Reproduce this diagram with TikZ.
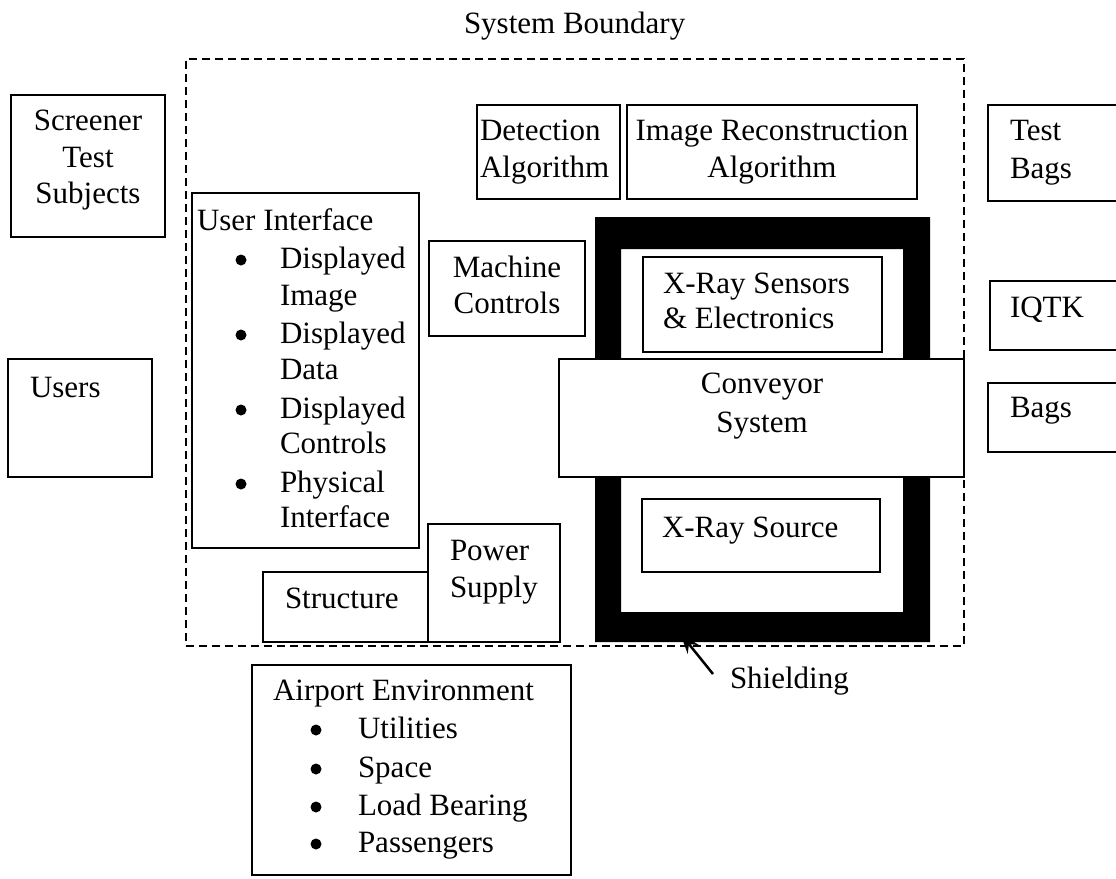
\documentclass[tikz,border=0pt]{standalone}
\usepackage{fontspec}
\setmainfont{Liberation Serif}
\usetikzlibrary{arrows.meta}
\tikzset{
  box/.style={draw, line width=1.6pt, inner sep=0pt, outer sep=0pt},
  wbox/.style={box, fill=white},
  txt/.style={font=\fontsize{31}{36}\selectfont, anchor=base west, inner sep=0pt, outer sep=0pt},
  ctxt/.style={txt, anchor=base},
  bul/.style={circle, fill=black, inner sep=0pt, minimum size=11pt},
  boundary/.style={draw, line width=1.5pt, dash pattern=on 8pt off 5pt},
  shield/.style={fill=black, even odd rule},
  pointer/.style={line width=2.5pt, -{Stealth[length=21pt,width=14pt]}}
}
\newcommand{\mybox}[6][box]{\node[#1, minimum width={(#5-#3)*1pt}, minimum height={(#6-#4)*1pt}] (#2) at ({(#3+#5)/2},{(#4+#6)/2}) {};}
\begin{document}
\begin{tikzpicture}[x=1pt,y=-1pt]
\useasboundingbox[fill=white] (0,0) rectangle (1116,878);
% system boundary
\node[txt] (sbl) at (464,33) {System Boundary};
\mybox[boundary]{sysb}{186}{59}{964}{646}
% shielding
\path[shield] (595,217) rectangle (930,642) (621,249) rectangle (903,612);
\coordinate (shieldtip) at (680,633);
% outside boxes
\mybox{screener}{11}{95}{165}{237}
\node[ctxt] (scr1) at (88,130) {Screener};
\node[ctxt] (scr2) at (88,167) {Test};
\node[ctxt] (scr3) at (88,203) {Subjects};
\mybox{users}{8}{359}{152}{477}
\node[txt] (userst) at (30,397) {Users};
\mybox{testbags}{988}{105}{1125}{201}
\node[txt] (tb1) at (1010,140) {Test};
\node[txt] (tb2) at (1010,178) {Bags};
\mybox{iqtk}{990}{281}{1125}{350}
\node[txt] (iqtkt) at (1010,317) {IQTK};
\mybox{bags}{988}{383}{1125}{452}
\node[txt] (bagst) at (1010,417) {Bags};
% user interface
\mybox{ui}{192}{193}{419}{548}
\node[txt] (ui0) at (197,230) {User Interface};
\node[bul] (uib1) at (241,260) {};
\node[bul] (uib2) at (241,335) {};
\node[bul] (uib3) at (241,410) {};
\node[bul] (uib4) at (241,484) {};
\node[txt] (ui1) at (280,268) {Displayed};
\node[txt] (ui2) at (280,305) {Image};
\node[txt] (ui3) at (280,343) {Displayed};
\node[txt] (ui4) at (280,379) {Data};
\node[txt] (ui5) at (280,418) {Displayed};
\node[txt] (ui6) at (280,453) {Controls};
\node[txt] (ui7) at (280,492) {Physical};
\node[txt] (ui8) at (280,527) {Interface};
% algorithms
\mybox{det}{477}{105}{620}{199}
\node[txt] (det1) at (480,140) {Detection};
\node[txt] (det2) at (480,177) {Algorithm};
\mybox{imgrec}{627}{105}{917}{199}
\node[ctxt] (ir1) at (772,140) {Image Reconstruction};
\node[ctxt] (ir2) at (772,177) {Algorithm};
% machine controls
\mybox{mc}{429}{241}{585}{336}
\node[ctxt] (mc1) at (507,277) {Machine};
\node[ctxt] (mc2) at (507,313) {Controls};
% sensors
\mybox{xrs}{643}{257}{882}{352}
\node[txt] (xrs1) at (663,293) {X-Ray Sensors};
\node[txt] (xrs2) at (663,328) {\& Electronics};
% conveyor
\mybox[wbox]{conv}{559}{359}{964}{477}
\node[ctxt] (conv1) at (762,393) {Conveyor};
\node[ctxt] (conv2) at (762,432) {System};
% source
\mybox{xsrc}{642}{499}{880}{572}
\node[txt] (xsrct) at (662,537) {X-Ray Source};
% power and structure
\mybox{power}{428}{524}{560}{642}
\node[txt] (pw1) at (450,560) {Power};
\node[txt] (pw2) at (450,597) {Supply};
\mybox{struct}{263}{572}{428}{642}
\node[txt] (structt) at (285,608) {Structure};
% airport
\mybox{airport}{252}{665}{571}{875}
\node[txt] (ap0) at (273,700) {Airport Environment};
\node[bul] (apb1) at (316,730) {};
\node[bul] (apb2) at (316,769) {};
\node[bul] (apb3) at (316,807) {};
\node[bul] (apb4) at (316,844) {};
\node[txt] (ap1) at (358,738) {Utilities};
\node[txt] (ap2) at (358,777) {Space};
\node[txt] (ap3) at (358,815) {Load Bearing};
\node[txt] (ap4) at (358,852) {Passengers};
% shielding label
\node[txt] (shieldl) at (730,688) {Shielding};
\coordinate (shieldtail) at (713,674);
\draw[pointer] (shieldtail) -- (shieldtip);
\end{tikzpicture}
\end{document}
